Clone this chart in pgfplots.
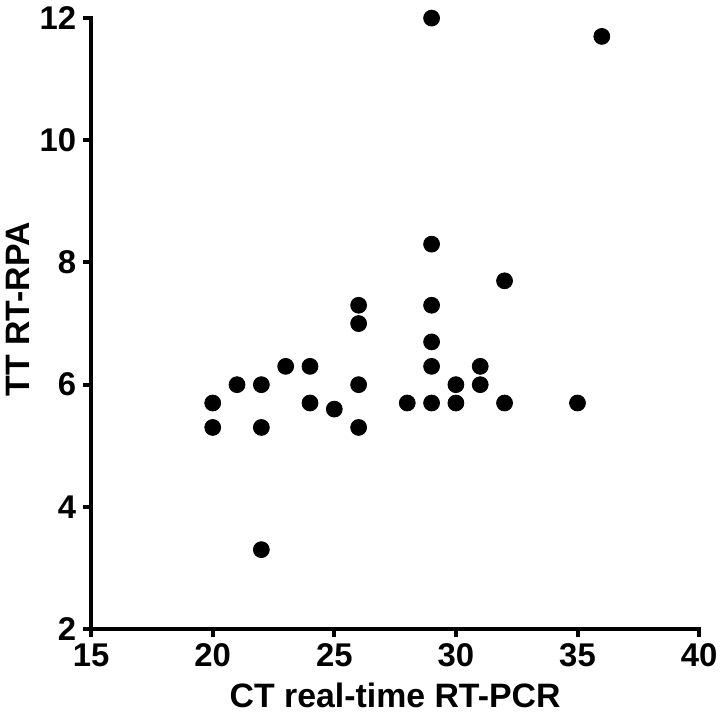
\documentclass[border=0pt]{standalone}
\usepackage{fontspec}
\setmainfont{Liberation Sans}
\usepackage{pgfplots}
\pgfplotsset{compat=1.18}
\begin{document}
\begin{tikzpicture}
\begin{axis}[
  scale only axis,
  width=305.5pt, height=307pt,
  xmin=15, xmax=40, ymin=2, ymax=12,
  xtick={15,20,25,30,35,40},
  ytick={2,4,6,8,10,12},
  axis lines=left,
  axis line style={-, line width=2pt, line cap=rect},
  tick style={line width=2pt, black},
  tick align=outside,
  major tick length=4pt,
  /pgf/number format/assume math mode=true,
  ticklabel style={font=\fontsize{16.5}{17}\selectfont\bfseries},
  xticklabel style={yshift=0pt},
  yticklabel style={xshift=0pt},
  xlabel={CT real-time RT-PCR},
  ylabel={TT RT-RPA},
  label style={font=\fontsize{17}{18}\selectfont\bfseries},
  xlabel style={yshift=-1pt},
  ylabel style={at={(ticklabel cs:0.523)}, yshift=-2pt},
  clip=false,
]
\addplot[only marks, mark=*, mark size=4pt, black] coordinates {
(20,5.7) (20,5.3) (21,6) (22,6) (22,5.3) (22,3.3) (23,6.3) (24,6.3) (24,5.7) (25,5.6)
(26,7.3) (26,7.0) (26,6) (26,5.3) (28,5.7) (29,12) (29,8.3) (29,7.3) (29,6.7) (29,6.3)
(29,5.7) (30,6) (30,5.7) (31,6.3) (31,6) (32,7.7) (32,5.7) (35,5.7) (36,11.7)
};
\end{axis}
\end{tikzpicture}
\end{document}
